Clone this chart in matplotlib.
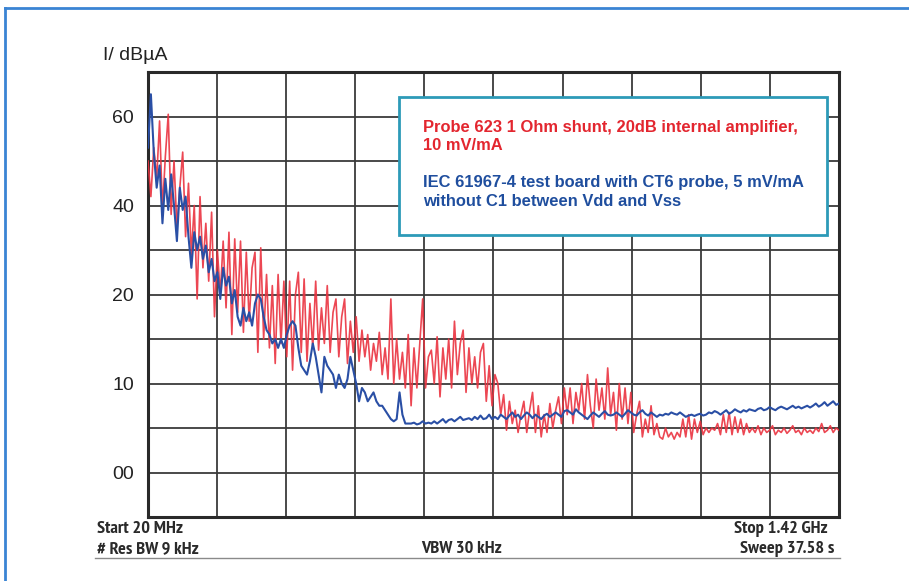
import numpy as np
import matplotlib
matplotlib.use("Agg")
import matplotlib.pyplot as plt
from matplotlib.lines import Line2D
from matplotlib.patches import Rectangle
from matplotlib import font_manager as fm

# ---------------- data (levels in screen divisions, 0 = bottom, 10 = top) -------------
start_mhz = 20
stop_mhz = 1420
y_tick_pos = [1, 3, 5, 7, 9]
y_tick_labels = ["00", "10", "20", "40", "60"]
y_unit = "I/ dBµA"

probe623_level = [
    8.0, 7.2, 8.3, 7.6, 8.9, 6.9, 8.1, 9.05, 6.8, 8.0,
    6.5, 7.4, 8.2, 6.3, 7.5, 5.9, 7.0, 4.9, 7.2, 5.6,
    6.6, 5.3, 6.85, 4.5, 6.0, 5.0, 6.2, 4.7, 6.4, 4.1,
    6.25, 4.6, 6.2, 4.15, 5.95, 4.4, 5.6, 5.95, 3.7, 6.05,
    4.0, 5.45, 3.8, 5.2, 3.45, 5.45, 3.9, 5.3, 3.6, 5.3,
    3.3, 5.0, 5.5, 3.7, 5.35, 3.5, 4.8, 3.8, 5.3, 3.75,
    4.7, 3.9, 5.2, 3.7, 4.6, 4.9, 3.6, 4.5, 4.9, 3.45,
    4.4, 3.7, 4.5, 3.5, 4.2, 3.6, 4.1, 3.3, 3.9, 3.5,
    4.15, 3.2, 3.8, 3.1, 4.9, 3.0, 4.0, 3.1, 3.7, 2.9,
    4.1, 2.5, 3.8, 2.9, 3.9, 4.9, 2.9, 3.6, 3.75, 3.0,
    4.05, 2.7, 3.8, 3.1, 4.0, 2.9, 4.4, 3.2, 3.9, 4.2,
    2.8, 3.8, 3.0, 3.6, 2.9, 3.7, 3.9, 2.6, 3.4, 2.5,
    3.2, 3.0, 2.3, 2.75, 1.95, 2.6, 2.1, 2.4, 1.9, 2.3,
    2.6, 1.9, 2.4, 2.8, 1.9, 2.5, 1.8, 2.3, 1.9, 2.55,
    2.0, 2.4, 2.7, 2.1, 2.9, 2.3, 2.9, 2.1, 2.8, 2.4,
    3.0, 2.2, 3.2, 2.5, 2.0, 3.1, 2.4, 2.9, 2.2, 3.35,
    2.3, 2.8, 1.95, 3.0, 2.2, 2.9, 2.1, 2.8, 1.9, 2.3,
    2.6, 1.8, 2.2, 1.9, 2.5, 1.85, 2.1, 1.8, 1.75, 2.0,
    1.8, 1.9, 1.75, 1.9, 1.8, 2.2, 1.8, 2.3, 1.75, 2.2,
    1.9, 2.15, 1.85, 2.0, 1.9, 2.0, 1.95, 2.1, 1.85, 2.3,
    1.9, 2.35, 1.85, 2.25, 1.9, 2.2, 1.85, 2.1, 1.9, 2.0,
    1.9, 2.05, 1.85, 2.0, 1.9, 1.95, 2.05, 1.85, 1.95, 1.9,
    2.0, 1.88, 1.95, 2.05, 1.9, 1.95, 1.85, 2.0, 1.9, 1.95,
    1.88, 2.0, 1.92, 2.1, 1.9, 1.95, 2.05, 1.9, 2.0, 1.95,
]

ct6_level = [
    8.3, 9.5, 8.2, 7.4, 7.9, 6.6, 7.6, 6.9, 7.7, 7.0,
    6.2, 7.4, 6.9, 7.2, 6.3, 5.6, 6.4, 6.0, 6.3, 5.8,
    6.1, 5.5, 5.8, 5.3, 5.5, 4.9, 5.6, 5.2, 5.4, 4.8,
    5.1, 4.5, 4.3, 4.7, 4.4, 4.6, 4.3, 4.8, 5.0, 4.9,
    4.5, 4.2, 4.1, 3.9, 4.0, 3.8, 4.0, 3.8, 4.1, 4.3,
    4.4, 4.3, 3.8, 3.4, 3.3, 3.2, 3.5, 3.9, 3.6, 3.2,
    2.8, 3.6, 3.4, 3.3, 3.2, 2.9, 3.2, 3.0, 2.9, 3.1,
    3.6, 3.3, 3.0, 2.6, 2.9, 2.8, 2.6, 2.7, 2.8, 2.6,
    2.5, 2.5, 2.4, 2.3, 2.2, 2.15, 2.2, 2.8, 2.3, 2.1,
    2.1, 2.1, 2.12, 2.08, 2.1, 2.15, 2.1, 2.12, 2.1, 2.15,
    2.1, 2.15, 2.2, 2.12, 2.18, 2.2, 2.15, 2.2, 2.25, 2.18,
    2.2, 2.22, 2.18, 2.25, 2.2, 2.28, 2.2, 2.22, 2.3, 2.2,
    2.25, 2.2, 2.3, 2.25, 2.2, 2.28, 2.35, 2.25, 2.3, 2.2,
    2.28, 2.35, 2.3, 2.22, 2.3, 2.25, 2.2, 2.28, 2.32, 2.25,
    2.3, 2.35, 2.3, 2.25, 2.38, 2.4, 2.35, 2.3, 2.42, 2.35,
    2.3, 2.25, 2.2, 2.28, 2.35, 2.3, 2.25, 2.32, 2.38, 2.3,
    2.28, 2.3, 2.35, 2.3, 2.25, 2.32, 2.4, 2.35, 2.3, 2.28,
    2.35, 2.4, 2.32, 2.28, 2.35, 2.3, 2.25, 2.3, 2.28, 2.32,
    2.3, 2.35, 2.32, 2.3, 2.35, 2.3, 2.25, 2.28, 2.3, 2.27,
    2.3, 2.32, 2.28, 2.3, 2.35, 2.33, 2.38, 2.35, 2.3, 2.35,
    2.4, 2.32, 2.36, 2.42, 2.38, 2.35, 2.4, 2.37, 2.42, 2.4,
    2.38, 2.43, 2.45, 2.4, 2.42, 2.47, 2.43, 2.4, 2.45, 2.48,
    2.45, 2.42, 2.46, 2.5, 2.45, 2.48, 2.44, 2.47, 2.5, 2.46,
    2.5, 2.55, 2.48, 2.52, 2.58, 2.5, 2.55, 2.6, 2.52, 2.55,
]

legend_red = ["Probe 623 1 Ohm shunt, 20dB internal amplifier,", "10 mV/mA"]
legend_blue = ["IEC 61967-4 test board with CT6 probe, 5 mV/mA", "without C1 between Vdd and Vss"]
footer_left = ["Start 20 MHz", "# Res BW 9 kHz"]
footer_mid = "VBW 30 kHz"
footer_right = ["Stop 1.42 GHz", "Sweep 37.58 s"]

# sweep frequency grid (analyzer sweep points)
freq_red = np.linspace(start_mhz, stop_mhz, len(probe623_level))
freq_blue = np.linspace(start_mhz, stop_mhz, len(ct6_level))


# ---------------- pick a narrow bold font for the analyzer footer -------------
def find_narrow_bold():
    best = None
    for f in fm.fontManager.ttflist:
        name = (f.name + " " + f.fname).lower()
        if ("narrow" in name or "condensed" in name) and ("bold" in f.fname.lower() or f.weight in ("bold", 700)):
            if "oblique" in f.fname.lower() or "italic" in f.fname.lower():
                continue
            score = 0 if "narrow" in name else 1
            if best is None or score < best[0]:
                best = (score, f.fname)
    return best[1] if best else None

narrow_file = find_narrow_bold()
if narrow_file:
    footer_fp = fm.FontProperties(fname=narrow_file, size=13.2)
else:
    footer_fp = fm.FontProperties(family="Liberation Sans", weight="bold", size=10.5)

# ---------------- figure -------------
W, H = 909, 581
fig = plt.figure(figsize=(W / 100, H / 100), dpi=100)
fig.patch.set_facecolor("white")

L, R, T, B = 148, 839, 72, 517
ax = fig.add_axes([L / W, 1 - B / H, (R - L) / W, (B - T) / H])
ax.set_xlim(start_mhz, stop_mhz)
ax.set_ylim(0, 10)

grid_col = "#3a3a3a"
ax.set_xticks(np.linspace(start_mhz, stop_mhz, 11))
ax.set_xticklabels([])
ax.set_yticks(range(0, 11))
lbls = [""] * 11
for p, t in zip(y_tick_pos, y_tick_labels):
    lbls[p] = t
ax.set_yticklabels(lbls, fontfamily="Liberation Sans", fontsize=14, color="#222222")
ax.tick_params(axis="both", length=0, pad=10)
ax.grid(True, color=grid_col, linewidth=1.3)
ax.set_axisbelow(True)
for s in ax.spines.values():
    s.set_color("#2a2a2a")
    s.set_linewidth(2.2)

ax.plot(freq_red, probe623_level, color="#ea3340", lw=1.2, alpha=0.9, zorder=3)
ax.plot(freq_blue, ct6_level, color="#2a4fa5", lw=1.5, zorder=4)


def px2data(x, y):
    return (start_mhz + (x - L) / (R - L) * (stop_mhz - start_mhz), (B - y) / (B - T) * 10)

# legend box
x0, y1 = px2data(399, 97)
x1, y0 = px2data(827, 235)
ax.add_patch(Rectangle((x0, y0), x1 - x0, y1 - y0, facecolor="white",
                       edgecolor="#2d9ab8", lw=2.0, zorder=6))
legend_lines = [(legend_red[0], 132, "#e3262f"), (legend_red[1], 150, "#e3262f"),
                (legend_blue[0], 187, "#1f4e9e"), (legend_blue[1], 206, "#1f4e9e")]
for txt, ypx, col in legend_lines:
    tx, ty = px2data(423, ypx)
    ax.text(tx, ty, txt, color=col, fontsize=11.9, fontweight="bold",
            fontfamily="Liberation Sans", va="baseline", ha="left", zorder=7)

# unit label
fig.text(103 / W, 1 - 55 / H, y_unit, fontsize=14, fontfamily="Liberation Sans",
         color="#222222", va="center", ha="left")

# footer text
ff = dict(fontproperties=footer_fp, color="#2a2a2a", va="center")
fig.text(97 / W, 1 - 529 / H, footer_left[0], ha="left", **ff)
fig.text(97 / W, 1 - 549 / H, footer_left[1], ha="left", **ff)
fig.text(462 / W, 1 - 549 / H, footer_mid, ha="center", **ff)
fig.text(828 / W, 1 - 529 / H, footer_right[0], ha="right", **ff)
fig.text(834 / W, 1 - 549 / H, footer_right[1], ha="right", **ff)

# decorative lines
fig.add_artist(Line2D([95 / W, 840 / W], [1 - 558 / H, 1 - 558 / H], color="#8a8a8a", lw=1.0))
fig.add_artist(Line2D([5 / W, 1.0], [1 - 8 / H, 1 - 8 / H], color="#3a84d4", lw=2.0))
fig.add_artist(Line2D([5 / W, 5 / W], [1 - 8 / H, 0.0], color="#3a84d4", lw=2.0))

fig.savefig("out.png", dpi=100, facecolor="white")
